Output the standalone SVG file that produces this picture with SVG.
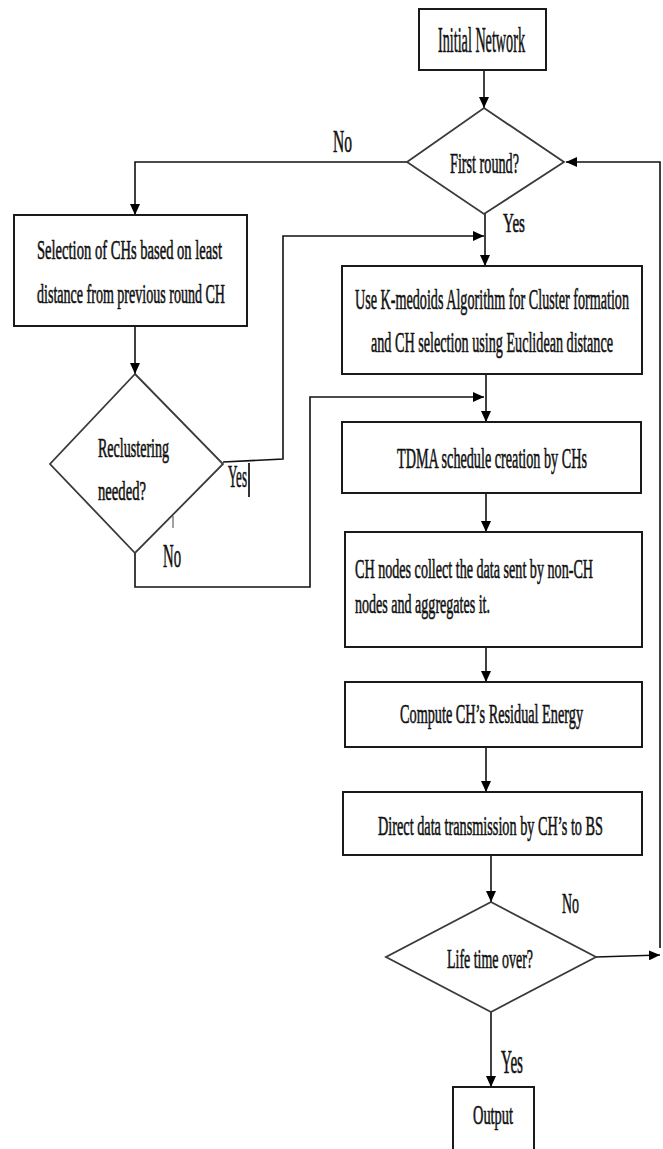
<svg xmlns="http://www.w3.org/2000/svg" width="663" height="1149" viewBox="0 0 663 1149">
<style>
.box{fill:#fff;stroke:#1a1a1a;stroke-width:2}
.dia{fill:#fff;stroke:#3a3a3a;stroke-width:1.8}
.t{font-family:"Liberation Serif","Times New Roman",serif;fill:#111;stroke:#111;stroke-width:0.6}
.c{fill:none;stroke:#111;stroke-width:1.6}
</style>
<defs>
<marker id="ah" markerUnits="userSpaceOnUse" markerWidth="12" markerHeight="10" refX="11" refY="5" orient="auto">
<path d="M0,0 L11,5 L0,10 z" fill="#000"/>
</marker>
</defs>
<rect width="663" height="1149" fill="#fff"/>
<g id="connectors">
<polyline class="c" points="484,70 484,108" marker-end="url(#ah)"/>
<polyline class="c" points="407,162 135,162 135,215" marker-end="url(#ah)"/>
<polyline class="c" points="485,214 485,266" marker-end="url(#ah)"/>
<polyline class="c" points="223,462 283,459 283,236 484,236" marker-end="url(#ah)"/>
<polyline class="c" points="135,326 135,374" marker-end="url(#ah)"/>
<polyline class="c" points="135,553 135,587 310,587 310,397 484,397" marker-end="url(#ah)"/>
<polyline class="c" points="486,374 486,422" marker-end="url(#ah)"/>
<polyline class="c" points="486,493 486,532" marker-end="url(#ah)"/>
<polyline class="c" points="486,638 486,682" marker-end="url(#ah)"/>
<polyline class="c" points="486,747 486,792" marker-end="url(#ah)"/>
<polyline class="c" points="491,855 491,902" marker-end="url(#ah)"/>
<polyline class="c" points="596,957 660,955" marker-end="url(#ah)"/>
<polyline class="c" points="660,948 660,162 566,162" marker-end="url(#ah)"/>
<polyline class="c" points="491,1012 491,1087" marker-end="url(#ah)"/>
<line x1="249" y1="463" x2="249" y2="497" stroke="#000" stroke-width="1.6"/>
<line x1="173" y1="516" x2="173" y2="528" stroke="#444" stroke-width="1"/>
</g>
<g id="initial">
<rect class="box" x="419" y="9" width="127" height="61"/>
<text class="t" transform="translate(438,52) scale(0.45,1)" font-size="36" textLength="193.3" lengthAdjust="spacingAndGlyphs">Initial Network</text>
</g>
<g id="first-round">
<polygon class="dia" points="484,108 564,162 484,214 407,162"/>
<text class="t" transform="translate(450,173) scale(0.45,1)" font-size="30" textLength="153.3" lengthAdjust="spacingAndGlyphs">First round?</text>
</g>
<g id="selection">
<rect class="box" x="14" y="215" width="233" height="111"/>
<text class="t" transform="translate(37,259) scale(0.45,1)" font-size="27" textLength="411.1" lengthAdjust="spacingAndGlyphs">Selection of CHs based on least</text>
<text class="t" transform="translate(37,303) scale(0.45,1)" font-size="27" textLength="417.8" lengthAdjust="spacingAndGlyphs">distance from previous round CH</text>
</g>
<g id="reclustering">
<polygon class="dia" points="135,374 223,464 135,553 50,464"/>
<text class="t" transform="translate(98,457) scale(0.45,1)" font-size="27" textLength="157.8" lengthAdjust="spacingAndGlyphs">Reclustering</text>
<text class="t" transform="translate(98,500) scale(0.45,1)" font-size="27" textLength="106.7" lengthAdjust="spacingAndGlyphs">needed?</text>
</g>
<g id="kmedoids">
<rect class="box" x="342" y="266" width="300" height="108"/>
<text class="t" transform="translate(355,309) scale(0.45,1)" font-size="30" textLength="608.9" lengthAdjust="spacingAndGlyphs">Use K-medoids Algorithm for Cluster formation</text>
<text class="t" transform="translate(371,352) scale(0.45,1)" font-size="30" textLength="537.8" lengthAdjust="spacingAndGlyphs">and CH selection using Euclidean distance</text>
</g>
<g id="tdma">
<rect class="box" x="342" y="422" width="299" height="71"/>
<text class="t" transform="translate(397,468) scale(0.45,1)" font-size="30" textLength="422.2" lengthAdjust="spacingAndGlyphs">TDMA schedule creation by CHs</text>
</g>
<g id="collect">
<rect class="box" x="345" y="532" width="297" height="115"/>
<text class="t" transform="translate(355,578) scale(0.45,1)" font-size="28" textLength="528.9" lengthAdjust="spacingAndGlyphs">CH nodes collect the data sent by non-CH</text>
<text class="t" transform="translate(355,613) scale(0.45,1)" font-size="28" textLength="300" lengthAdjust="spacingAndGlyphs">nodes and aggregates it.</text>
</g>
<g id="compute">
<rect class="box" x="345" y="682" width="297" height="65"/>
<text class="t" transform="translate(400,723) scale(0.45,1)" font-size="28" textLength="406.7" lengthAdjust="spacingAndGlyphs">Compute CH’s Residual Energy</text>
</g>
<g id="direct">
<rect class="box" x="343" y="792" width="299" height="63"/>
<text class="t" transform="translate(378,835) scale(0.45,1)" font-size="28" textLength="500" lengthAdjust="spacingAndGlyphs">Direct data transmission by CH’s to BS</text>
</g>
<g id="lifetime">
<polygon class="dia" points="491,902 596,957 491,1012 386,957"/>
<text class="t" transform="translate(447,968) scale(0.45,1)" font-size="28" textLength="191.1" lengthAdjust="spacingAndGlyphs">Life time over?</text>
</g>
<g id="output">
<rect class="box" x="453" y="1087" width="81" height="72"/>
<text class="t" transform="translate(473,1124) scale(0.45,1)" font-size="27" textLength="88.9" lengthAdjust="spacingAndGlyphs">Output</text>
</g>
<g id="labels">
<text class="t" transform="translate(333,152) scale(0.45,1)" font-size="32" textLength="42.2" lengthAdjust="spacingAndGlyphs">No</text>
<text class="t" transform="translate(503,232) scale(0.45,1)" font-size="27" textLength="48.9" lengthAdjust="spacingAndGlyphs">Yes</text>
<text class="t" transform="translate(228,487) scale(0.45,1)" font-size="31" textLength="42.2" lengthAdjust="spacingAndGlyphs">Yes</text>
<text class="t" transform="translate(163,567) scale(0.45,1)" font-size="33" textLength="40" lengthAdjust="spacingAndGlyphs">No</text>
<text class="t" transform="translate(562,913) scale(0.45,1)" font-size="30" textLength="37.8" lengthAdjust="spacingAndGlyphs">No</text>
<text class="t" transform="translate(501,1073) scale(0.45,1)" font-size="33" textLength="48.9" lengthAdjust="spacingAndGlyphs">Yes</text>
</g>
</svg>
